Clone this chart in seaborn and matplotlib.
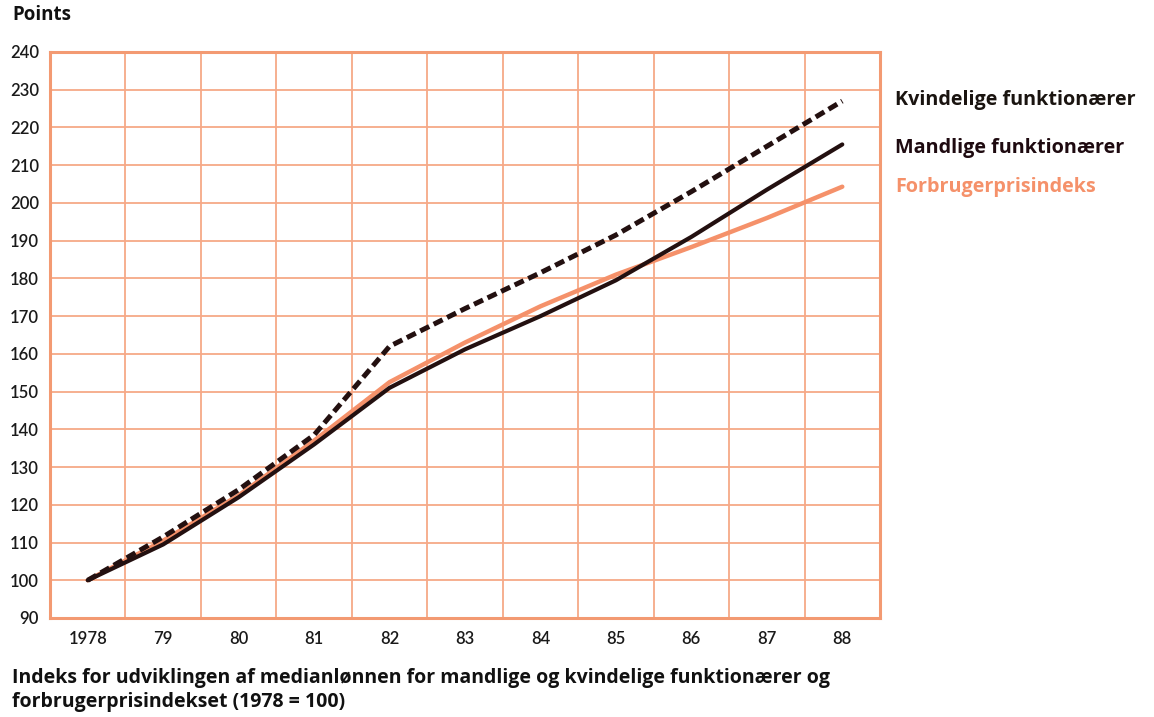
import matplotlib
matplotlib.use("Agg")
import matplotlib.pyplot as plt
import seaborn as sns
import pandas as pd
import numpy as np

years = [1978, 1979, 1980, 1981, 1982, 1983, 1984, 1985, 1986, 1987, 1988]
year_labels = ["1978", "79", "80", "81", "82", "83", "84", "85", "86", "87", "88"]
kvindelige = [100, 111.5, 124, 138.5, 162, 172, 181.5, 191.5, 203, 215, 227]
mandlige = [100, 109.5, 122, 136, 151, 161.2, 170, 179.5, 191, 203.5, 215.5]
forbruger = [100, 110.5, 122.5, 137, 152.5, 163, 172.6, 181, 188.3, 196, 204.3]
series_names = ["Kvindelige funktionærer", "Mandlige funktionærer", "Forbrugerprisindeks"]
yticks = list(range(90, 241, 10))

sns.set_theme(style="white")
plt.rcParams['font.family'] = ['Lato', 'DejaVu Sans']
TXT = ['Open Sans', 'DejaVu Sans']

GRID = "#f6a987"
SPINE = "#f39a72"
DARK = "#231010"
SALMON = "#f5916a"

fig = plt.figure(figsize=(11.54, 7.17), dpi=100)
ax = fig.add_axes([50/1154, 1-618/717, 830/1154, 566/717])

df = pd.DataFrame({"year": years, "value": forbruger})
sns.lineplot(data=df, x="year", y="value", ax=ax, color=SALMON, lw=3.2, zorder=3)
df = pd.DataFrame({"year": years, "value": mandlige})
sns.lineplot(data=df, x="year", y="value", ax=ax, color=DARK, lw=3.0, zorder=4)
df = pd.DataFrame({"year": years, "value": kvindelige})
sns.lineplot(data=df, x="year", y="value", ax=ax, color=DARK, lw=3.6, zorder=5,
             linestyle=(0, (2.0, 1.0)))

ax.set_xlim(years[0] - 0.5, years[-1] + 0.5)
ax.set_ylim(yticks[0], yticks[-1])
ax.set_xticks(years)
ax.set_xticklabels(year_labels)
ax.set_xticks([y + 0.5 for y in years[:-1]], minor=True)
ax.set_yticks(yticks)
ax.set_yticklabels([str(v) for v in yticks])
ax.grid(False)
ax.grid(True, which="minor", axis="x", color=GRID, lw=1.3, zorder=0)
ax.grid(True, which="major", axis="y", color=GRID, lw=1.3, zorder=0)
ax.tick_params(axis="both", which="both", length=0)
ax.tick_params(axis="y", pad=8, labelsize=12, labelcolor="#1a1a1a")
ax.tick_params(axis="x", pad=9, labelsize=12, labelcolor="#1a1a1a")
for lab in ax.get_xticklabels() + ax.get_yticklabels():
    lab.set_fontweight("semibold")
for s in ax.spines.values():
    s.set_color(SPINE)
    s.set_linewidth(2.2)
ax.set_xlabel("")
ax.set_ylabel("")

fig.text(12/1154, 1-15/717, "Points", fontsize=13.5, fontweight="bold", color="#111111",
         va="center", ha="left", family=TXT)

legend_y = [100, 148, 187]
legend_colors = ["#1a1410", "#1e0a10", SALMON]
for name, yy, c in zip(series_names, legend_y, legend_colors):
    fig.text(895/1154, 1-yy/717, name, fontsize=14.2, fontweight="bold", color=c,
             va="center", ha="left", family=TXT)

fig.text(12/1154, 1-678/717,
         "Indeks for udviklingen af medianlønnen for mandlige og kvindelige funktionærer og",
         fontsize=14, fontweight="bold", color="#111111", va="center", ha="left", family=TXT)
fig.text(12/1154, 1-702/717, "forbrugerprisindekset (1978 = 100)",
         fontsize=14, fontweight="bold", color="#111111", va="center", ha="left", family=TXT)

fig.savefig("out.png", dpi=100)
